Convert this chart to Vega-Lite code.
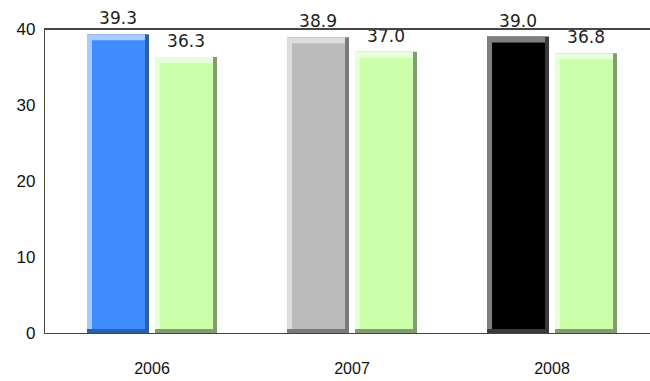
{
  "$schema": "https://vega.github.io/schema/vega-lite/v6.json",
  "width": 606,
  "height": 304,
  "autosize": "none",
  "padding": {"left": 44, "top": 29, "right": 0, "bottom": 48},
  "background": "white",
  "config": {"view": {"stroke": null}, "font": "Liberation Sans"},
  "data": {"values": [
    {"year": "2006", "s": "A", "key": "2006 A", "value": 39.3},
    {"year": "2006", "s": "B", "key": "B", "value": 36.3},
    {"year": "2007", "s": "A", "key": "2007 A", "value": 38.9},
    {"year": "2007", "s": "B", "key": "B", "value": 37.0},
    {"year": "2008", "s": "A", "key": "2008 A", "value": 39.0},
    {"year": "2008", "s": "B", "key": "B", "value": 36.8}
  ]},
  "encoding": {
    "x": {"field": "year", "type": "nominal", "scale": {"paddingInner": 0.35, "paddingOuter": 0.19, "align": 0.566},
      "axis": {"title": null, "labelAngle": 0, "ticks": false, "domainColor": "#444", "labelFontSize": 16, "labelColor": "#111", "labelPadding": 27}},
    "y": {"field": "value", "type": "quantitative", "stack": null, "scale": {"domain": [0, 40], "nice": false},
      "axis": {"title": null, "grid": false, "ticks": false, "values": [0, 10, 20, 30, 40], "domainColor": "#444", "labelFontSize": 17, "labelColor": "#111", "labelPadding": 9}}
  },
  "layer": [
    {"mark": {"type": "bar"},
      "encoding": {
        "y2": {"datum": 0},
        "xOffset": {"field": "s", "type": "nominal", "scale": {"paddingInner": 0.0882, "paddingOuter": 0}},
        "color": {"field": "key", "type": "nominal", "legend": null,
        "scale": {"domain": ["2006 A", "2007 A", "2008 A", "B"], "range": ["#2d5fa8", "#7a7a7a", "#3a3a3a", "#809c70"]}}}},
    {"mark": {"type": "bar", "y2Offset": -4},
      "encoding": {
        "y2": {"datum": 0},
        "xOffset": {"field": "s", "type": "nominal", "scale": {"paddingInner": 0.147, "paddingOuter": 0.0294, "align": 0}},
        "color": {"field": "key", "type": "nominal", "legend": null,
        "scale": {"domain": ["2006 A", "2007 A", "2008 A", "B"], "range": ["#a6cbff", "#dddddd", "#808080", "#e8ffdc"]}}}},
    {"mark": {"type": "bar", "yOffset": 6, "y2Offset": -4},
      "encoding": {
        "y2": {"datum": 0},
        "xOffset": {"field": "s", "type": "nominal", "scale": {"paddingInner": 0.2206, "paddingOuter": 0.0662, "align": 0.556}},
        "color": {"field": "key", "type": "nominal", "legend": null,
        "scale": {"domain": ["2006 A", "2007 A", "2008 A", "B"], "range": ["#3f8cff", "#bbbbbb", "#000000", "#ccffaa"]}}}},
    {"mark": {"type": "text", "baseline": "middle", "dy": -15, "font": "DejaVu Sans", "fontSize": 17, "color": "#222"},
      "encoding": {
        "xOffset": {"field": "s", "type": "nominal", "scale": {"type": "band", "paddingInner": 0.0882, "paddingOuter": 0}},
        "text": {"field": "value", "type": "quantitative", "format": ".1f"}}},
    {"mark": {"type": "rule", "color": "#444"},
      "encoding": {"y": {"datum": 40}, "x": {"value": 0}, "x2": {"value": 606}}}
  ],
  "resolve": {"scale": {"color": "independent", "xOffset": "independent"}}
}
